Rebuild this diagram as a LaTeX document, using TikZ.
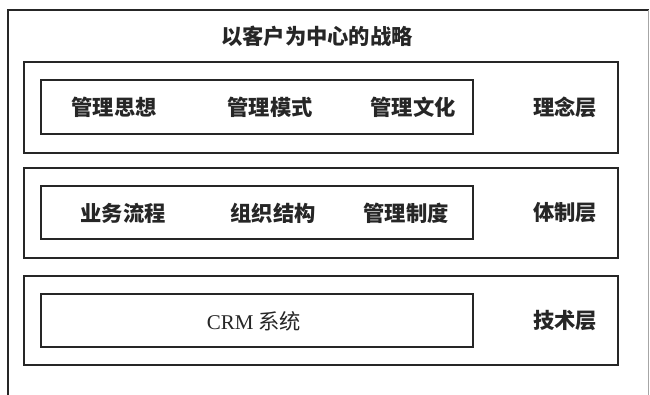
\documentclass[tikz,border=0pt]{standalone}
\usepackage{fontspec}
\newfontfamily\cjk{Noto Sans CJK SC}
\newfontfamily\latinserif{Liberation Serif}
\begin{document}
\begin{tikzpicture}[x=1pt,y=-1pt,
  layerbox/.style={draw=black!85,line width=2pt},
  innerbox/.style={draw=black!85,line width=2pt},
  lbl/.style={font=\cjk\bfseries\fontsize{21.3}{23}\selectfont,text=black!85,inner sep=0pt},
  outerline/.style={draw=black!85,line width=2pt}]
\useasboundingbox (0,0) rectangle (650,395);
% outer frame (bottom cut off)
\coordinate (oBL) at (8,396);
\coordinate (oTL) at (8,10);
\coordinate (oTR) at (648.5,10);
\coordinate (oBR) at (648.5,396);
\draw[outerline] (oBL) -- (oTL) -- (oTR);
\draw[draw=black!35,line width=1pt] (oTR) -- (oBR);
% layer boxes
\draw[layerbox] (24,62) rectangle (618,153);
\draw[layerbox] (24,168) rectangle (618,258);
\draw[layerbox] (24,276) rectangle (618,365);
% inner boxes
\draw[innerbox] (41,80) rectangle (473,134);
\draw[innerbox] (41,186) rectangle (473,239);
\draw[innerbox] (41,294) rectangle (473,347);
% texts
\node[lbl] (title) at (317,36) {以客户为中心的战略};
\node[lbl] (a1) at (114,107) {管理思想};
\node[lbl] (a2) at (270,107) {管理模式};
\node[lbl] (a3) at (413,107) {管理文化};
\node[lbl] (a4) at (565,107) {理念层};
\node[lbl] (b1) at (123,213) {业务流程};
\node[lbl] (b2) at (273,213) {组织结构};
\node[lbl] (b3) at (406,213) {管理制度};
\node[lbl] (b4) at (565,213) {体制层};
\node[lbl] (c1) at (254,321) {\mdseries{\latinserif\fontsize{21}{23}\selectfont CRM} 系统};
\node[lbl] (c4) at (565,321) {技术层};
\end{tikzpicture}
\end{document}
